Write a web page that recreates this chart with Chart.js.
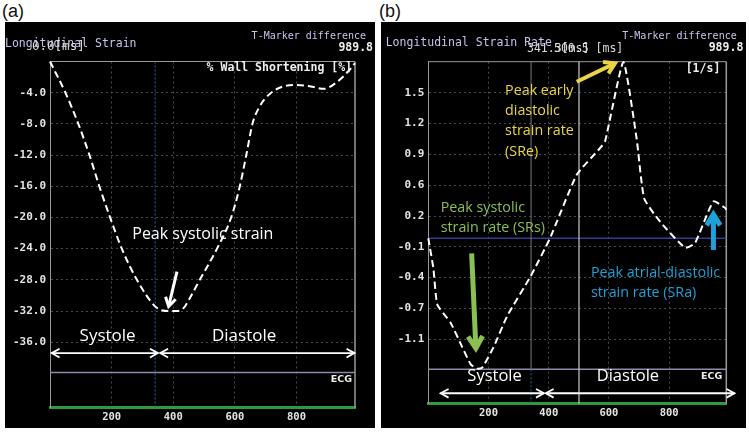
<!DOCTYPE html>
<html><head><meta charset="utf-8">
<script src="https://cdn.jsdelivr.net/npm/chart.js@4.4.0/dist/chart.umd.min.js"></script>
<style>
html,body{margin:0;padding:0;background:#fff;}
#root{position:relative;width:749px;height:432px;overflow:hidden;background:#fff;font-family:"Liberation Sans",Arial,sans-serif;}
.lbl{position:absolute;font-size:18px;color:#111;line-height:20px;}
.panel{position:absolute;background:#000;}
canvas{display:block;}
</style></head><body>
<div id="root">
<div class="lbl" style="left:2px;top:1px;">(a)</div>
<div class="lbl" style="left:379px;top:1px;">(b)</div>
<div class="panel" style="left:5px;top:22px;width:370px;height:406px;"><canvas id="ca" width="370" height="406"></canvas></div>
<div class="panel" style="left:381px;top:22px;width:365px;height:406px;"><canvas id="cb" width="365" height="406"></canvas></div>
</div>
<script>
// ---------- data ----------
const timeTicks = [200, 400, 600, 800];
const timeTickLabels = ['200', '400', '600', '800'];

const strainTime  = [0, 50, 92, 128, 160, 195, 233, 282, 341, 363, 385, 412, 434, 450, 486, 542, 588, 616, 637, 657, 677, 715, 791, 846, 889, 932, 976, 989.8];
const strainValue = [0, -4, -8, -12, -16, -20, -24, -28, -31.4, -31.9, -32.0, -32.0, -31.6, -30.6, -28, -24, -20, -16, -12, -8, -6.0, -4.1, -3.0, -3.2, -3.5, -2.6, -0.9, -0.2];
const strainTicks = [-4, -8, -12, -16, -20, -24, -28, -32, -36];
const strainTickLabels = ['-4.0', '-8.0', '-12.0', '-16.0', '-20.0', '-24.0', '-28.0', '-32.0', '-36.0'];

const rateTime  = [0, 17, 30, 74, 113, 141, 163, 179, 218, 262, 340, 404, 493, 570, 587, 648, 692, 717, 770, 853, 886, 947, 986, 989.8];
const rateValue = [0, -0.32, -0.70, -0.89, -1.15, -1.33, -1.375, -1.365, -1.14, -0.82, -0.40, 0.0, 0.67, 0.95, 1.02, 1.86, 1.05, 0.42, 0.175, -0.10, -0.05, 0.39, 0.32, 0.30];
const rateTicks = [1.535, 1.21, 0.885, 0.56, 0.235, -0.09, -0.415, -0.74, -1.065];
const rateTickLabels = ['1.5', '1.2', '0.9', '0.6', '0.2', '-0.1', '-0.4', '-0.7', '-1.1'];

const markerTimes = [341.3, 500.5];

// ---------- helpers ----------
function chevron(ctx, x1, y1, x2, y2, head, spread) {
  const a = Math.atan2(y2 - y1, x2 - x1);
  ctx.beginPath();
  ctx.moveTo(x2 - head * Math.cos(a - spread), y2 - head * Math.sin(a - spread));
  ctx.lineTo(x2, y2);
  ctx.lineTo(x2 - head * Math.cos(a + spread), y2 - head * Math.sin(a + spread));
  ctx.stroke();
}
function arrow(ctx, x1, y1, x2, y2, color, width, head) {
  ctx.save();
  ctx.setLineDash([]);
  ctx.strokeStyle = color; ctx.lineWidth = width; ctx.lineCap = 'butt'; ctx.lineJoin = 'miter';
  ctx.beginPath(); ctx.moveTo(x1, y1); ctx.lineTo(x2, y2); ctx.stroke();
  chevron(ctx, x1, y1, x2, y2, head, 0.55);
  ctx.restore();
}
function dblArrow(ctx, x1, x2, y, color) {
  ctx.save();
  ctx.setLineDash([]);
  ctx.strokeStyle = color; ctx.lineWidth = 1.8;
  ctx.beginPath(); ctx.moveTo(x1, y); ctx.lineTo(x2, y); ctx.stroke();
  chevron(ctx, x2, y, x1, y, 9, 0.5);
  chevron(ctx, x1, y, x2, y, 9, 0.5);
  ctx.restore();
}
function txt(ctx, s, x, y, font, color, align) {
  ctx.save();
  ctx.font = font; ctx.fillStyle = color; ctx.textAlign = align || 'left'; ctx.textBaseline = 'middle';
  ctx.fillText(s, x, y);
  ctx.restore();
}
function hline(ctx, area, y, color, w, dash) {
  ctx.save(); ctx.strokeStyle = color; ctx.lineWidth = w; ctx.setLineDash(dash || []);
  ctx.beginPath(); ctx.moveTo(area.left, y); ctx.lineTo(area.right, y); ctx.stroke(); ctx.restore();
}
function vline(ctx, x, y1, y2, color, w, dash) {
  ctx.save(); ctx.strokeStyle = color; ctx.lineWidth = w; ctx.setLineDash(dash || []);
  ctx.beginPath(); ctx.moveTo(x, y1); ctx.lineTo(x, y2); ctx.stroke(); ctx.restore();
}

const MONO = '"DejaVu Sans Mono", "Liberation Mono", monospace';
const SANS = '"Open Sans", "DejaVu Sans", sans-serif';
const LAV = '#c4c4ec';

function baseScales(tickVals, tickLabels, yMin, yMax, yAxisWidth, xAxisHeight) {
  return {
    x: {
      type: 'linear', min: 0, max: 989.8,
      afterBuildTicks: s => { s.ticks = timeTicks.map(v => ({ value: v })); },
      afterFit: s => { s.height = xAxisHeight; },
      ticks: { callback: (v, i) => timeTickLabels[i], color: '#e4e4e4', padding: 3,
               font: { family: MONO, size: 10.5, weight: 'bold' }, maxRotation: 0, autoSkip: false },
      grid: { color: '#4a4a4a', lineWidth: 1, drawTicks: false },
      border: { display: true, color: '#2f9a3c', width: 3, dash: [2, 3] }
    },
    y: {
      type: 'linear', min: yMin, max: yMax,
      afterBuildTicks: s => { s.ticks = tickVals.map(v => ({ value: v })); },
      afterFit: s => { s.width = yAxisWidth; },
      ticks: { callback: (v, i) => tickLabels[i], color: '#e4e4e4', padding: 4,
               font: { family: MONO, size: 11, weight: 'bold' }, autoSkip: false },
      grid: { color: '#4a4a4a', lineWidth: 1, drawTicks: false },
      border: { display: true, color: '#9a9a9a', width: 1, dash: [2, 3] }
    }
  };
}

// ---------- panel (a) ----------
const decorA = {
  id: 'decorA',
  beforeDatasetsDraw(chart) {
    const { ctx, chartArea: a, scales: { x, y } } = chart;
    hline(ctx, a, a.top, '#9a9a9a', 1);
    vline(ctx, a.right, a.top, a.bottom, '#9a9a9a', 1.5);
    hline(ctx, a, y.getPixelForValue(-39.9), '#8c8aa8', 1.5);
    vline(ctx, x.getPixelForValue(markerTimes[0]), a.top, a.bottom, '#2a64a8', 1, [2, 2]);
  },
  afterDraw(chart) {
    const { ctx, chartArea: a, scales: { x, y } } = chart;
    const X = v => x.getPixelForValue(v), Y = v => y.getPixelForValue(v);
    txt(ctx, 'Longitudinal Strain', 0, 22.5, '11.5px ' + MONO, LAV);
    txt(ctx, '0.0[ms]', 27, 25, '12.5px ' + MONO, '#dcdcdc');
    txt(ctx, 'T-Marker difference', 361, 14.7, '10px ' + MONO, LAV, 'right');
    txt(ctx, '989.8', 368, 26.5, 'bold 11.5px ' + MONO, '#eeeeee', 'right');
    txt(ctx, '% Wall Shortening [%]', a.right - 3, a.top + 7, 'bold 11.5px ' + MONO, '#eeeeee', 'right');
    txt(ctx, 'ECG', a.right - 3, Y(-39.9) + 7, 'bold 9.5px "DejaVu Sans", sans-serif', '#eeeeee', 'right');
    txt(ctx, 'Peak systolic strain', X(496), Y(-22.2), '16px ' + SANS, '#ffffff', 'center');
    arrow(ctx, X(412), Y(-26.95), X(385), Y(-31.4), '#ffffff', 3, 10);
    txt(ctx, 'Systole', X(187), Y(-35.2), '17px ' + SANS, '#ffffff', 'center');
    txt(ctx, 'Diastole', X(630), Y(-35.2), '17px ' + SANS, '#ffffff', 'center');
    dblArrow(ctx, X(5.5), X(350), Y(-37.4), '#ffffff');
    dblArrow(ctx, X(357.6), X(988), Y(-37.4), '#ffffff');
  }
};

new Chart(document.getElementById('ca'), {
  type: 'line',
  data: { datasets: [{
    data: strainTime.map((t, i) => ({ x: t, y: strainValue[i] })),
    borderColor: '#ffffff', borderWidth: 2, borderDash: [7, 4], pointRadius: 0,
    cubicInterpolationMode: 'monotone', fill: false, clip: false
  }] },
  options: {
    responsive: false, animation: false, events: [],
    layout: { padding: { top: 39.5, right: 20, left: 0, bottom: 0 } },
    plugins: { legend: { display: false }, tooltip: { enabled: false } },
    scales: baseScales(strainTicks, strainTickLabels, -44.4, 0, 45, 20.3)
  },
  plugins: [decorA]
});

// ---------- panel (b) ----------
const decorB = {
  id: 'decorB',
  beforeDatasetsDraw(chart) {
    const { ctx, chartArea: a, scales: { x, y } } = chart;
    hline(ctx, a, a.top, '#9a9a9a', 1);
    vline(ctx, a.right, a.top, a.bottom, '#9a9a9a', 1.5);
    const ecg = y.getPixelForValue(-1.382);
    hline(ctx, a, ecg, '#8c8aa8', 1.5);
    hline(ctx, a, y.getPixelForValue(0), '#3b3890', 1.5);
    vline(ctx, x.getPixelForValue(markerTimes[0]), a.top, ecg, '#777777', 1);
    vline(ctx, x.getPixelForValue(markerTimes[0]), ecg, a.bottom, '#2a64a8', 1, [2, 2]);
    vline(ctx, x.getPixelForValue(markerTimes[1]), a.top, a.bottom, '#c8c8c8', 1.2);
  },
  afterDraw(chart) {
    const { ctx, chartArea: a, scales: { x, y } } = chart;
    const X = v => x.getPixelForValue(v), Y = v => y.getPixelForValue(v);
    txt(ctx, 'Longitudinal Strain Rate', 4.7, 21.5, '11.5px ' + MONO, LAV);
    txt(ctx, '341.3[ms]', 146, 27.3, '11.5px ' + MONO, '#dcdcdc');
    txt(ctx, '500.5 [ms]', 173, 27.3, '11.5px ' + MONO, '#dcdcdc');
    txt(ctx, 'T-Marker difference', 355.7, 14.7, '10px ' + MONO, LAV, 'right');
    txt(ctx, '989.8', 362.3, 26.5, 'bold 11.5px ' + MONO, '#eeeeee', 'right');
    txt(ctx, '[1/s]', a.right - 6, a.top + 7, 'bold 11.5px ' + MONO, '#eeeeee', 'right');
    txt(ctx, 'ECG', a.right - 4, Y(-1.382) + 7, 'bold 9.5px "DejaVu Sans", sans-serif', '#eeeeee', 'right');

    const yel = '#e9d543', grn = '#8cbf52', blu = '#1fa0d6';
    ['Peak early', 'diastolic', 'strain rate', '(SRe)'].forEach((s, i) =>
      txt(ctx, s, X(255), Y(1.554) + i * 20.2, '14.3px ' + SANS, yel));
    arrow(ctx, X(493), Y(1.652), X(620), Y(1.846), yel, 4, 12);
    ['Peak systolic', 'strain rate (SRs)'].forEach((s, i) =>
      txt(ctx, s, X(41), Y(0.316) + i * 20, '14.3px ' + SANS, grn));
    arrow(ctx, X(144), Y(-0.158), X(158), Y(-1.16), grn, 5, 14);
    ['Peak atrial-diastolic', 'strain rate (SRa)'].forEach((s, i) =>
      txt(ctx, s, X(540), Y(-0.369) + i * 20, '14.3px ' + SANS, blu));
    arrow(ctx, X(947), Y(-0.123), X(947), Y(0.253), blu, 5, 13);

    txt(ctx, 'Systole', X(220), Y(-1.46), '16.5px ' + SANS, '#ffffff', 'center');
    txt(ctx, 'Diastole', X(663), Y(-1.46), '16.5px ' + SANS, '#ffffff', 'center');
    dblArrow(ctx, X(41), X(384), Y(-1.635), '#ffffff');
    dblArrow(ctx, X(390), X(1017), Y(-1.635), '#ffffff');
  }
};

new Chart(document.getElementById('cb'), {
  type: 'line',
  data: { datasets: [{
    data: rateTime.map((t, i) => ({ x: t, y: rateValue[i] })),
    borderColor: '#ffffff', borderWidth: 2, borderDash: [7, 4], pointRadius: 0,
    tension: 0.15, fill: false, clip: false
  }] },
  options: {
    responsive: false, animation: false, events: [],
    layout: { padding: { top: 39.7, right: 19.7, left: 0, bottom: 0 } },
    plugins: { legend: { display: false }, tooltip: { enabled: false } },
    scales: baseScales(rateTicks, rateTickLabels, -1.745, 1.863, 47.3, 24.3)
  },
  plugins: [decorB]
});
</script>
</body></html>
